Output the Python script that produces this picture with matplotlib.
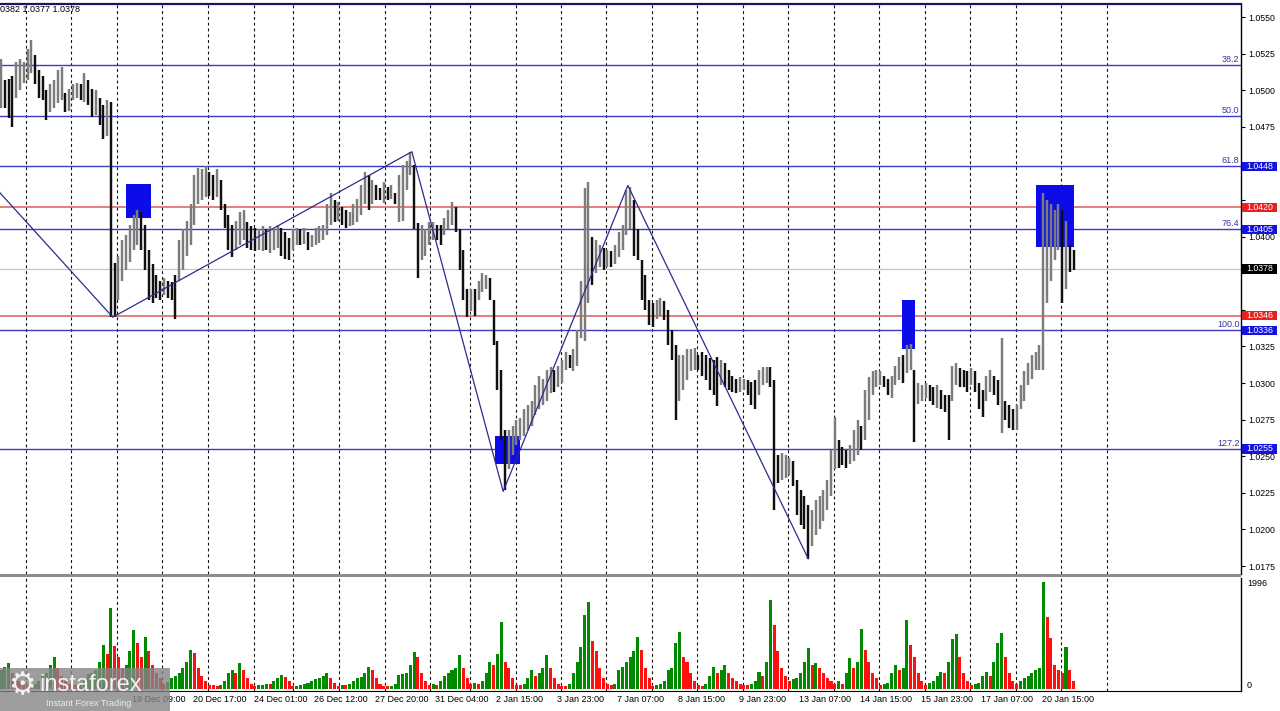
import matplotlib
matplotlib.use('Agg')
import matplotlib.pyplot as plt
import numpy as np
from matplotlib.patches import Rectangle
from matplotlib.transforms import blended_transform_factory as btf

plt.rcParams['font.family'] = ['Liberation Sans', 'DejaVu Sans']

# ---------------- data (2-hour bars, prices in pips above 1.0000) ----------------
bar_high = [
    521, 507, 508, 510, 519, 521, 519, 528, 534, 524,
    514, 510, 500, 504, 507, 514, 516, 498, 501, 504,
    505, 504, 512, 507, 501, 500, 495, 490, 493, 492,
    382, 387, 398, 401, 408, 415, 418, 417, 408, 391,
    381, 374, 370, 372, 370, 369, 374, 398, 405, 411,
    422, 442, 447, 446, 448, 444, 442, 446, 439, 422,
    415, 408, 411, 417, 418, 410, 407, 406, 405, 407,
    405, 407, 405, 408, 406, 403, 399, 405, 406, 405,
    406, 403, 401, 406, 407, 408, 422, 430, 425, 424,
    420, 418, 417, 422, 426, 435, 444, 442, 439, 435,
    433, 437, 434, 435, 430, 442, 449, 452, 458, 449,
    409, 408, 405, 410, 410, 408, 408, 413, 418, 424,
    420, 405, 391, 364, 364, 364, 370, 375, 374, 372,
    357, 329, 309, 268, 268, 271, 275, 276, 282, 285,
    288, 299, 305, 303, 309, 311, 309, 312, 316, 321,
    319, 323, 336, 370, 433, 437, 400, 398, 394, 392,
    391, 390, 394, 403, 408, 432, 434, 425, 405, 384,
    374, 357, 355, 357, 358, 356, 350, 336, 326, 319,
    319, 323, 323, 324, 319, 321, 319, 317, 316, 318,
    316, 314, 309, 305, 303, 304, 303, 302, 301, 302,
    309, 311, 311, 311, 302, 251, 252, 251, 249, 247,
    234, 227, 223, 217, 213, 220, 223, 227, 234, 254,
    277, 261, 256, 254, 258, 268, 275, 271, 295, 304,
    308, 309, 308, 305, 303, 305, 312, 318, 319, 326,
    327, 309, 300, 299, 300, 299, 297, 299, 295, 292,
    292, 312, 314, 310, 309, 308, 310, 308, 300, 295,
    305, 309, 305, 302, 331, 288, 285, 282, 285, 299,
    308, 314, 319, 321, 326, 430, 425, 422, 418, 422,
    418, 411, 394, 391]
bar_low = [
    488, 488, 481, 475, 495, 500, 505, 507, 512, 504,
    495, 493, 480, 485, 488, 491, 493, 485, 486, 493,
    495, 493, 492, 490, 482, 483, 476, 467, 469, 345,
    345, 357, 370, 377, 383, 391, 394, 391, 377, 357,
    355, 358, 357, 360, 358, 357, 344, 370, 377, 387,
    394, 408, 422, 425, 427, 428, 425, 427, 418, 406,
    391, 386, 391, 394, 398, 392, 391, 390, 391, 390,
    391, 389, 391, 392, 387, 385, 384, 391, 394, 394,
    395, 391, 393, 394, 396, 398, 401, 408, 410, 411,
    408, 406, 407, 408, 410, 415, 422, 418, 422, 425,
    425, 423, 425, 426, 422, 410, 411, 432, 442, 405,
    372, 384, 387, 394, 398, 398, 394, 401, 405, 408,
    403, 377, 357, 345, 349, 346, 357, 362, 364, 357,
    326, 295, 261, 227, 241, 251, 258, 261, 264, 268,
    271, 278, 282, 285, 288, 293, 294, 297, 300, 309,
    310, 308, 312, 331, 329, 355, 367, 375, 379, 377,
    379, 379, 381, 386, 391, 401, 405, 387, 384, 357,
    350, 340, 338, 344, 346, 343, 326, 316, 275, 288,
    295, 302, 308, 309, 309, 305, 302, 295, 292, 284,
    299, 297, 295, 294, 293, 294, 295, 292, 285, 282,
    292, 299, 300, 297, 213, 232, 234, 235, 237, 230,
    210, 203, 200, 180, 189, 196, 200, 206, 213, 223,
    241, 242, 244, 242, 245, 247, 251, 254, 261, 275,
    292, 297, 299, 297, 292, 290, 299, 302, 300, 307,
    309, 260, 286, 288, 290, 288, 285, 283, 282, 280,
    261, 288, 299, 297, 297, 294, 299, 294, 282, 277,
    288, 294, 292, 285, 266, 275, 269, 268, 268, 282,
    288, 299, 303, 309, 309, 309, 355, 370, 384, 391,
    355, 364, 376, 377]
volume = [
    350, 420, 480, 300, 200, 150, 100,
    80, 70, 90, 150, 250, 300, 450, 600, 400, 250, 150, 100,
    80, 70, 100, 180, 280, 300, 350, 500, 820, 650, 1510, 800,
    600, 400, 450, 700, 1100, 850, 600, 970, 700, 450, 300, 200,
    100, 130, 200, 250, 300, 400, 500, 730, 680, 400, 250, 150,
    80, 70, 60, 80, 150, 300, 350, 300, 480, 350, 200, 100,
    60, 70, 80, 100, 90, 150, 200, 260, 230, 150,
    50, 60, 80, 90, 120, 150, 180, 200, 250, 300, 200, 120,
    60, 80, 70, 100, 150, 200, 220, 300, 410, 350, 200, 100,
    60, 50, 60, 100, 260, 280, 300, 450, 690, 600, 300, 150,
    80, 90, 70, 150, 250, 300, 350, 400, 630, 400, 200,
    100, 120, 90, 150, 300, 500, 450, 650, 1250, 500, 400, 200,
    80, 70, 100, 200, 350, 250, 300, 400, 630, 400, 200, 100,
    60, 50, 100, 300, 500, 780, 1380, 1620, 900, 700, 400, 200,
    100, 80, 100, 350, 410, 500, 600, 700, 970, 730, 400, 200,
    60, 80, 100, 150, 350, 400, 860, 1060, 600, 500, 300, 150,
    80, 60, 100, 250, 410, 300, 350, 450, 300, 200, 150, 100,
    80, 70, 100, 150, 320, 250, 500, 1660, 1190, 700, 400, 250,
    150, 180, 200, 300, 500, 765, 450, 485, 400, 300, 200, 150,
    100, 150, 100, 300, 580, 400, 500, 1120, 730, 500, 300, 200,
    80, 100, 120, 300, 450, 350, 400, 1290, 820, 600, 300, 150,
    80, 120, 150, 250, 320, 300, 500, 930, 1030, 600, 300, 150,
    80, 100, 120, 250, 320, 250, 500, 860, 1045, 600, 300, 150,
    100, 150, 200, 250, 300, 350, 400, 1996, 1340, 950, 450, 350,
    300, 780, 350, 150]

# labels hidden beneath the logo in the reference are omitted
time_labels = ["19 Dec 09:00", "20 Dec 17:00",
               "24 Dec 01:00", "26 Dec 12:00", "27 Dec 20:00", "31 Dec 04:00",
               "2 Jan 15:00", "3 Jan 23:00", "7 Jan 07:00", "8 Jan 15:00",
               "9 Jan 23:00", "13 Jan 07:00", "14 Jan 15:00", "15 Jan 23:00",
               "17 Jan 07:00", "20 Jan 15:00"]

fib_names = ['38.2', '50.0', '61.8', '76.4', '100.0', '127.2']
fib_levels = [1.05172, 1.04824, 1.0448, 1.0405, 1.0336, 1.0255]
fib_tagged = [False, False, True, True, True, True]
red_levels = [1.0420, 1.0346]
last_price = 1.0378
header = "0382 1.0377 1.0378"

zigzag_bar = [-0.3, 29.5, 108.4, 132.5, 165.4, 213.0]
zigzag_price = [1.0430, 1.0345, 1.0458, 1.0226, 1.0435, 1.0180]

signal_boxes = [(33.0, 39.6, 1.0413, 1.0436), (130.3, 137.0, 1.0245, 1.0264),
                (237.7, 241.2, 1.0323, 1.0357), (273.1, 283.1, 1.0393, 1.0435)]

session_breaks = [6.6, 18.6, 30.6, 42.5, 54.6, 66.8, 77.0, 89.2, 101.3, 113.2,
                  123.8, 135.9, 147.8, 159.6, 171.8, 183.6, 195.8, 207.7, 219.8,
                  231.7, 243.8, 255.7, 267.8, 279.7, 291.8]
label_first_bar, label_step = 34.64, 16
vol_max_label = 1996

# ---------------- figure ----------------
W, H = 1280, 711
fig = plt.figure(figsize=(W / 100, H / 100), dpi=100)
fx = lambda px: px / W
fy = lambda py: 1 - py / H

ax = fig.add_axes([0, fy(574), fx(1241), (574 - 4) / H])
axv = fig.add_axes([0, fy(691), fx(1241), (691 - 578) / H], sharex=ax)

n = len(bar_high)
x = np.arange(n)
hi = 1 + np.array(bar_high) / 10000.0
lo = 1 + np.array(bar_low) / 10000.0
mid = (hi + lo) / 2
up = np.r_[True, mid[1:] >= mid[:-1]]

ax.set_xlim(-1 / 3.79, 1240 / 3.79)
ax.set_ylim(1.01696, 1.05589)

# grid
for b in session_breaks:
    for a in (ax, axv):
        a.axvline(b, color='#111111', lw=0.8, ls=(0, (2.6, 2.6)), zorder=1)

# horizontal levels
for lv in fib_levels:
    ax.axhline(lv, color='#3c3cc0', lw=1.0, zorder=2)
for lv in red_levels:
    ax.axhline(lv, color='#e05a5a', lw=1.1, zorder=2)
ax.axhline(last_price, color='#c4c4c4', lw=0.9, zorder=2)

# signal boxes
for (i0, i1, p0, p1) in signal_boxes:
    ax.add_patch(Rectangle((i0, p0), i1 - i0, p1 - p0, facecolor='#0c0ce8',
                           edgecolor='none', zorder=3))

# bars
ax.vlines(x[up], lo[up], hi[up], color='#7c7c7c', lw=1.75, zorder=4)
ax.vlines(x[~up], lo[~up], hi[~up], color='#101010', lw=1.75, zorder=4)

# zigzag
ax.plot(zigzag_bar, zigzag_price, color='#2c2c8c', lw=0.9, zorder=5)

# fib labels
tr = btf(ax.transAxes, ax.transData)
px_price = 0.0025 / 36.6
for name, lv in zip(fib_names, fib_levels):
    ax.text(1 - 1.5 / 1241, lv + px_price, name, transform=tr, ha='right',
            va='bottom', fontsize=6.5, color='#3535a8', zorder=6)

# axes styling
for a in (ax, axv):
    a.spines['left'].set_visible(False)
    a.spines['right'].set_color('black')
    a.spines['right'].set_linewidth(1.0)
    a.set_facecolor('white')
ax.spines['bottom'].set_visible(False)
ax.spines['top'].set_color('#16166e')
ax.spines['top'].set_linewidth(1.6)
axv.spines['top'].set_visible(False)
axv.spines['bottom'].set_color('black')

ax.yaxis.tick_right()
ticks = np.round(np.arange(1.0175, 1.05501, 0.0025), 4)
tag_prices = [lv for lv, t in zip(fib_levels, fib_tagged) if t] + red_levels + [last_price]


def covered(t):
    # scale labels hidden by a price tag (the tag covers them in the reference)
    return any(abs(t - p) < 0.00045 or 0 < t - p <= 0.00051 for p in tag_prices)


ax.set_yticks(ticks)
ax.set_yticklabels(["" if covered(t) else f"{t:.4f}" for t in ticks])
ax.tick_params(axis='y', length=3, width=0.8, pad=2, labelsize=6.3, colors='black')
ax.tick_params(axis='x', bottom=False, labelbottom=False)

# price tags on right axis
tags = [(fib_levels[i], '#1414e0') for i in range(len(fib_levels)) if fib_tagged[i]]
tags += [(lv, '#e82020') for lv in red_levels]
tags += [(last_price, '#000000')]
tag_h = 9.5 * px_price
for lv, col in tags:
    ax.add_patch(Rectangle((1 + 1 / 1241, lv - tag_h / 2), 35 / 1241, tag_h,
                           transform=tr, facecolor=col, edgecolor='none',
                           clip_on=False, zorder=7))
    ax.text(1 + 18.5 / 1241, lv, f"{lv:.4f}", transform=tr, ha='center',
            va='center', fontsize=6.3, color='white', zorder=8, clip_on=False)

# volume panel
vol = np.array(volume)
vup = np.r_[True, vol[1:] > vol[:-1]]
axv.bar(x[vup], vol[vup], width=0.8, color='#008a00', zorder=3)
axv.bar(x[~vup], vol[~vup], width=0.8, color='#ff1010', zorder=3)
axv.set_ylim(-37, 2071)
axv.set_yticks([])
axv.tick_params(axis='x', bottom=False, labelbottom=False)
fig.text(fx(1247), fy(583), str(vol_max_label), ha='left', va='center', fontsize=6.5)
fig.text(fx(1247), fy(685), "0", ha='left', va='center', fontsize=6.5)

# separator between panels
fig.patches.append(Rectangle((0, fy(577)), fx(1241), 3 / H, transform=fig.transFigure,
                             facecolor='#8c8c8c', edgecolor='none', zorder=10))

# time labels
trt = btf(axv.transData, fig.transFigure)
for k, lab in enumerate(time_labels):
    xb = label_first_bar + label_step * k
    fig.text(0, 0, lab, transform=trt, fontsize=6.5, ha='left', va='center',
             position=(xb, fy(700)))

# header
fig.text(0, fy(10), header, ha='left', va='center', fontsize=6.5, color='black')

# logo
fig.patches.append(Rectangle((0, 0), fx(170), 43 / H, transform=fig.transFigure,
                             facecolor='#858585', edgecolor='none', alpha=0.8, zorder=20))
fig.text(fx(22), fy(686), '\u2699', ha='center', va='center', fontsize=22,
         color='#f2f2f2', family='DejaVu Sans', zorder=21)
fig.text(fx(39), fy(685), 'instaforex', ha='left', va='center', fontsize=17,
         color='#f4f4f4', zorder=21)
fig.text(fx(46), fy(704), 'Instant Forex Trading', ha='left', va='center', fontsize=6.5,
         color='#ececec', zorder=21)

fig.savefig('out.png', dpi=100, facecolor='white')
